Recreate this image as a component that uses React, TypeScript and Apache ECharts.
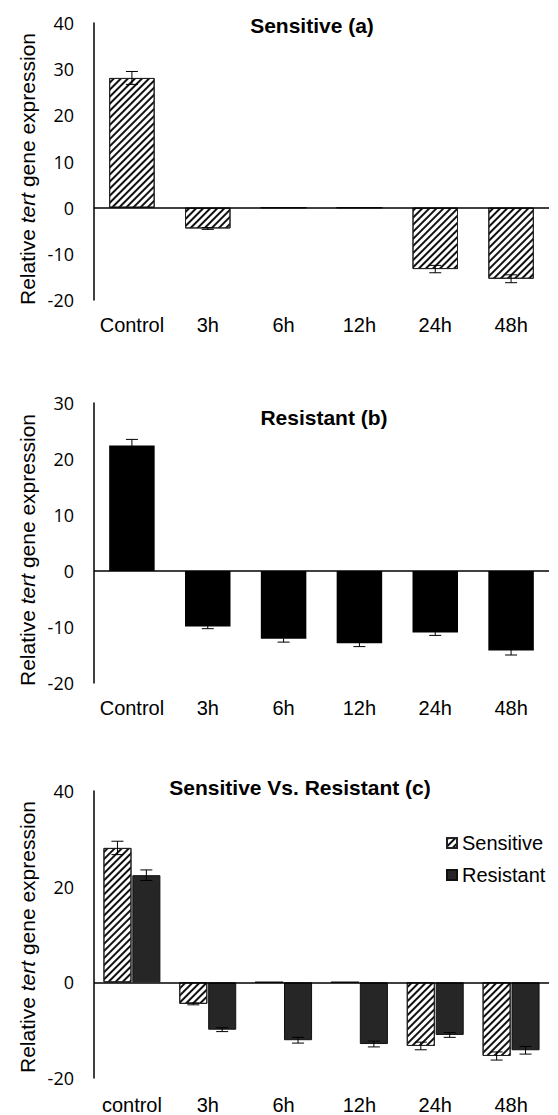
import React, { useEffect, useRef } from "react";
import * as echarts from "echarts";

const categoriesAB = ["Control", "3h", "6h", "12h", "24h", "48h"];
const categoriesC = ["control", "3h", "6h", "12h", "24h", "48h"];
const sensitive = [28.1, -4.5, 0, 0, -13.3, -15.4];
const sensitiveErr = [1.4, 0.2, 0, 0, 0.8, 0.85];
const resistant = [22.4, -9.9, -12.1, -12.9, -11.0, -14.2];
const resistantErr = [1.1, 0.4, 0.6, 0.6, 0.5, 0.8];

const TICK_FONT = "Open Sans";
const SANS = "Liberation Sans";

const hatch = {
  symbol: "rect",
  symbolSize: 1,
  color: "#111111",
  backgroundColor: "#ffffff",
  dashArrayX: [1, 0],
  dashArrayY: [1.3, 2.1],
  rotation: -Math.PI / 4,
};

function errData(vals: number[], errs: number[]) {
  const out: number[][] = [];
  vals.forEach((v, i) => {
    if (errs[i] > 0) out.push([i, v - errs[i], v + errs[i]]);
  });
  return out;
}

function makeErr(offsetFrac: number) {
  return (params: any, api: any) => {
    const i = api.value(0);
    const lo = api.coord([i, api.value(1)]);
    const hi = api.coord([i, api.value(2)]);
    const band = api.size([1, 0])[0];
    const x = lo[0] + band * offsetFrac;
    const cap = 6;
    const st = { stroke: "#000", lineWidth: 1 };
    return {
      type: "group",
      children: [
        { type: "line", shape: { x1: x, y1: lo[1], x2: x, y2: hi[1] }, style: st },
        { type: "line", shape: { x1: x - cap, y1: lo[1], x2: x + cap, y2: lo[1] }, style: st },
        { type: "line", shape: { x1: x - cap, y1: hi[1], x2: x + cap, y2: hi[1] }, style: st },
      ],
    };
  };
}

const zeroLine = {
  silent: true,
  symbol: "none",
  label: { show: false },
  lineStyle: { color: "#000", width: 1.5, type: "solid" },
  data: [{ yAxis: 0 }],
};

function yAxisCfg(gi: number, min: number, max: number, interval: number) {
  return {
    type: "value",
    gridIndex: gi,
    min,
    max,
    interval,
    axisLine: { show: true, lineStyle: { color: "#000", width: 1.5 } },
    axisTick: { show: false },
    splitLine: { show: false },
    axisLabel: { color: "#000", fontFamily: TICK_FONT, fontSize: 18, margin: 20 },
  };
}

function xAxisCfg(gi: number, cats: string[], margin: number) {
  return {
    type: "category",
    gridIndex: gi,
    data: cats,
    position: "bottom",
    axisLine: { show: false, onZero: false },
    axisTick: { show: false },
    splitLine: { show: false },
    axisLabel: {
      color: "#000",
      fontFamily: SANS,
      fontSize: 20,
      lineHeight: 20,
      margin,
      interval: 0,
    },
  };
}

function titleText(text: string, x: number, y: number) {
  return {
    type: "text",
    x,
    y,
    style: {
      text,
      fill: "#000",
      font: `bold 21px "${SANS}"`,
      align: "center",
      verticalAlign: "middle",
      textAlign: "center",
      textVerticalAlign: "middle",
    },
  };
}

function yName(y: number) {
  return {
    type: "text",
    x: 27,
    y,
    rotation: Math.PI / 2,
    style: {
      text: "Relative {i|tert} gene expression",
      fill: "#000",
      font: `21px "${SANS}"`,
      align: "center",
      verticalAlign: "middle",
      textAlign: "center",
      textVerticalAlign: "middle",
      rich: {
        i: { fontStyle: "italic", fontWeight: "normal", fontSize: 21, fontFamily: SANS, fill: "#000" },
      },
    },
  };
}

export default function App() {
  const ref = useRef<HTMLDivElement>(null);
  useEffect(() => {
    if (!ref.current) return;
    const chart = echarts.init(ref.current, null, { renderer: "svg" });
    const off = (0.37 * 1.03) / 2;
    const option: any = {
      animation: false,
      backgroundColor: "#fff",
      grid: [
        { left: 94, right: 9, top: 23, height: 277 },
        { left: 94, right: 9, top: 403, height: 280 },
        { left: 94, right: 9, top: 791, height: 289 },
      ],
      xAxis: [xAxisCfg(0, categoriesAB, 15), xAxisCfg(1, categoriesAB, 15), xAxisCfg(2, categoriesC, 17)],
      yAxis: [yAxisCfg(0, -20, 40, 10), yAxisCfg(1, -20, 30, 10), yAxisCfg(2, -20, 40, 20)],
      legend: {
        show: true,
        data: ["Sensitive", "Resistant"],
        orient: "vertical",
        left: 446,
        top: 832,
        padding: 0,
        itemGap: 10,
        itemWidth: 10,
        itemHeight: 10,
        icon: "rect",
        textStyle: { color: "#000", fontFamily: SANS, fontSize: 20, lineHeight: 22 },
      },
      graphic: [
        titleText("Sensitive (a)", 312, 25),
        titleText("Resistant (b)", 324, 417),
        titleText("Sensitive Vs. Resistant (c)", 300, 787),
        yName(169),
        yName(550),
        yName(937),
      ],
      series: [
        {
          name: "s1",
          type: "bar",
          xAxisIndex: 0,
          yAxisIndex: 0,
          data: sensitive,
          barWidth: "60%",
          itemStyle: { color: "#fff", borderColor: "#222", borderWidth: 1, decal: hatch },
          markLine: zeroLine,
        },
        {
          name: "e1",
          type: "custom",
          xAxisIndex: 0,
          yAxisIndex: 0,
          data: errData(sensitive, sensitiveErr),
          encode: { x: 0, y: [1, 2] },
          renderItem: makeErr(0),
          z: 5,
        },
        {
          name: "r2",
          type: "bar",
          xAxisIndex: 1,
          yAxisIndex: 1,
          data: resistant,
          barWidth: "60%",
          itemStyle: { color: "#000" },
          markLine: zeroLine,
        },
        {
          name: "e2",
          type: "custom",
          xAxisIndex: 1,
          yAxisIndex: 1,
          data: errData(resistant, resistantErr),
          encode: { x: 0, y: [1, 2] },
          renderItem: makeErr(0),
          z: 5,
        },
        {
          name: "Sensitive",
          type: "bar",
          xAxisIndex: 2,
          yAxisIndex: 2,
          data: sensitive,
          barWidth: "37%",
          barGap: "3%",
          itemStyle: { color: "#fff", borderColor: "#222", borderWidth: 1, decal: hatch },
          markLine: zeroLine,
        },
        {
          name: "Resistant",
          type: "bar",
          xAxisIndex: 2,
          yAxisIndex: 2,
          data: resistant,
          barWidth: "37%",
          barGap: "3%",
          itemStyle: { color: "#262626", borderColor: "#111", borderWidth: 1 },
        },
        {
          name: "e3s",
          type: "custom",
          xAxisIndex: 2,
          yAxisIndex: 2,
          data: errData(sensitive, sensitiveErr),
          encode: { x: 0, y: [1, 2] },
          renderItem: makeErr(-off),
          z: 5,
        },
        {
          name: "e3r",
          type: "custom",
          xAxisIndex: 2,
          yAxisIndex: 2,
          data: errData(resistant, resistantErr),
          encode: { x: 0, y: [1, 2] },
          renderItem: makeErr(off),
          z: 5,
        },
      ],
    };
    chart.setOption(option);
    return () => chart.dispose();
  }, []);
  return (
    <div
      ref={ref}
      style={{ position: "absolute", left: 0, top: 0, width: 558, height: 1115 }}
    />
  );
}
